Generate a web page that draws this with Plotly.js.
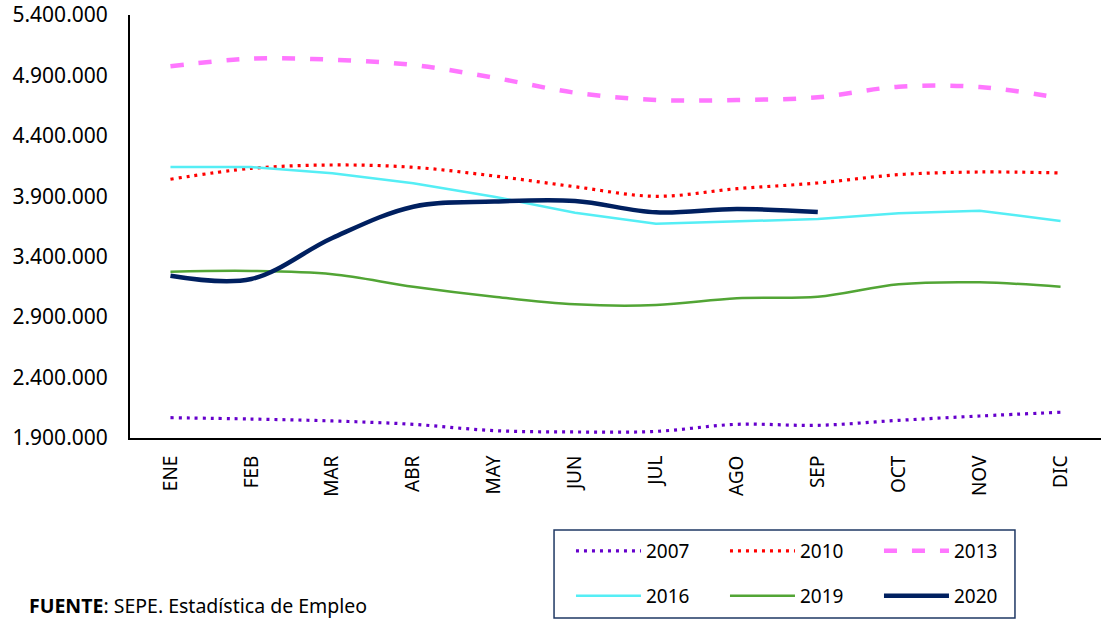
<!DOCTYPE html>
<html>
<head>
<meta charset="utf-8">
<script src="https://cdn.plot.ly/plotly-3.0.1.min.js"></script>
<style>html,body{margin:0;padding:0;background:#fff;}#chart{width:1101px;height:620px;}</style>
</head>
<body>
<div id="chart"></div>
<script>
const months = ['ENE','FEB','MAR','ABR','MAY','JUN','JUL','AGO','SEP','OCT','NOV','DIC'];
const y2007 = [2068000,2057000,2041000,2013000,1961000,1950000,1955000,2013000,2005000,2046000,2082000,2113000];
const y2010 = [4041000,4131000,4159000,4140000,4068000,3979000,3900000,3963000,4010000,4079000,4101000,4093000];
const y2013 = [4976000,5039000,5030000,4986000,4881000,4757000,4697000,4697000,4719000,4807000,4804000,4713000];
const y2016 = [4142000,4142000,4090000,4007000,3897000,3764000,3673000,3690000,3712000,3759000,3781000,3696000];
const y2019 = [3276000,3282000,3255000,3152000,3069000,3006000,3000000,3056000,3069000,3172000,3188000,3152000];
const y2020 = [3243000,3216000,3555000,3814000,3856000,3861000,3767000,3795000,3770000];
const seriesNames = ['2007','2010','2013','2016','2019','2020'];

const FONT = '"Noto Sans", "Liberation Sans", sans-serif';
const traces = [
  {x: months, y: y2007, name: seriesNames[0], legend: 'legend', mode: 'lines', line: {color: '#6600CC', width: 3.2, dash: '3px,5px', shape: 'spline', smoothing: 1}},
  {x: months, y: y2010, name: seriesNames[1], legend: 'legend', mode: 'lines', line: {color: '#FF0000', width: 3.2, dash: '3px,5px', shape: 'spline', smoothing: 1}},
  {x: months, y: y2013, name: seriesNames[2], legend: 'legend', mode: 'lines', line: {color: '#FF77FF', width: 4.5, dash: '13px,15px', shape: 'spline', smoothing: 1}},
  {x: months, y: y2016, name: seriesNames[3], legend: 'legend2', mode: 'lines', line: {color: '#55EEF5', width: 2.5, shape: 'linear'}},
  {x: months, y: y2019, name: seriesNames[4], legend: 'legend2', mode: 'lines', line: {color: '#52A535', width: 2.5, shape: 'spline', smoothing: 1}},
  {x: months.slice(0, y2020.length), y: y2020, name: seriesNames[5], legend: 'legend2', mode: 'lines', line: {color: '#002060', width: 4.5, shape: 'spline', smoothing: 1}}
];

const legendBase = {
  orientation: 'h', xref: 'container', yref: 'container',
  x: 0.5186, xanchor: 'left', yanchor: 'top',
  borderwidth: 0, bgcolor: 'rgba(0,0,0,0)',
  entrywidth: 74, entrywidthmode: 'pixels', itemwidth: 65,
  font: {family: FONT, size: 19, color: '#000'}
};

const layout = {
  width: 1101, height: 620,
  margin: {l: 130, r: 0, t: 15, b: 182},
  paper_bgcolor: '#ffffff', plot_bgcolor: '#ffffff',
  separators: ',.',
  font: {family: FONT, size: 21, color: '#000000'},
  showlegend: true,
  xaxis: {
    type: 'category', range: [-0.5, 11.5], tickangle: -90, showgrid: false, zeroline: false,
    showline: true, linecolor: '#000000', linewidth: 2, ticks: '', ticklabelstandoff: 8,
    tickfont: {family: FONT, size: 19, color: '#000'}
  },
  yaxis: {
    range: [1900000, 5400000], tick0: 1900000, dtick: 500000, tickformat: ',d',
    showgrid: false, zeroline: false, showline: true, linecolor: '#000000', linewidth: 2,
    ticks: '', ticklabelstandoff: 16, tickfont: {family: FONT, size: 21, color: '#000'}
  },
  legend: Object.assign({}, legendBase, {y: 0.1419}),
  legend2: Object.assign({}, legendBase, {y: 0.0694}),
  shapes: [{
    type: 'rect', xref: 'paper', yref: 'paper',
    x0: 0.4367, x1: 0.9114, y0: -0.4255, y1: -0.2175,
    line: {color: '#1F3864', width: 1.5}, fillcolor: 'rgba(0,0,0,0)', layer: 'below'
  }],
  annotations: [{
    xref: 'paper', yref: 'paper', x: -0.106, y: -0.395, xanchor: 'left', yanchor: 'middle',
    showarrow: false, text: '<b>FUENTE</b>: SEPE. Estadística de Empleo',
    font: {family: FONT, size: 19.5, color: '#000'}
  }]
};

Plotly.newPlot('chart', traces, layout, {displayModeBar: false, staticPlot: true});
</script>
</body>
</html>
